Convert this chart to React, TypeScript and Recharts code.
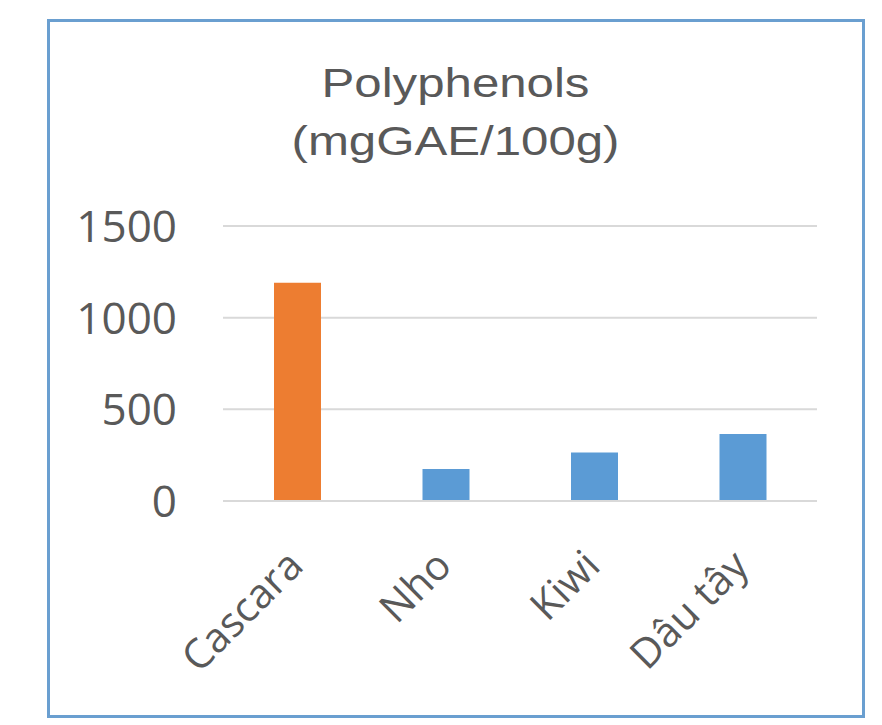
import { BarChart, Bar, XAxis, YAxis, CartesianGrid, Cell } from 'recharts';

const categories = ['Cascara', 'Nho', 'Kiwi', 'Dâu tây'];
const polyphenols = [1190, 175, 265, 365];
const yTicks = [0, 500, 1000, 1500];
const titleLines = ['Polyphenols', '(mgGAE/100g)'];

const barColors = ['#ED7D31', '#5B9BD5', '#5B9BD5', '#5B9BD5'];
const textColor = '#595959';

const data = categories.map((name, i) => ({ name, value: polyphenols[i] }));

function XTick({ x, y, payload }: any) {
  const tx = x + 8;
  const ty = y + 67;
  return (
    <text
      x={tx}
      y={ty}
      transform={`rotate(-45, ${tx}, ${ty})`}
      textAnchor="end"
      fill={textColor}
      fontSize={41}
      fontFamily="'Open Sans', sans-serif"
    >
      {payload.value}
    </text>
  );
}

function YTick({ x, y, payload }: any) {
  return (
    <text
      x={x - 46}
      y={y + 16}
      textAnchor="end"
      fill={textColor}
      fontSize={44}
      fontFamily="'Open Sans', sans-serif"
    >
      {payload.value}
    </text>
  );
}

export default function App() {
  return (
    <div style={{ position: 'absolute', left: 0, top: 0, width: 882, height: 725, background: '#fff' }}>
      <BarChart
        width={882}
        height={725}
        data={data}
        margin={{ top: 226, right: 65, bottom: 194, left: 73 }}
        barSize={47}
      >
        <CartesianGrid vertical={false} stroke="#d9d9d9" strokeWidth={2} />
        <XAxis
          dataKey="name"
          height={30}
          interval={0}
          tickLine={false}
          tickSize={0}
          tickMargin={0}
          axisLine={{ stroke: '#d9d9d9', strokeWidth: 2 }}
          tick={<XTick />}
        />
        <YAxis
          width={150}
          domain={[0, 1500]}
          ticks={yTicks}
          axisLine={false}
          tickLine={false}
          tickSize={0}
          tickMargin={0}
          tick={<YTick />}
        />
        <Bar dataKey="value" isAnimationActive={false}>
          {data.map((d, i) => (
            <Cell key={d.name} fill={barColors[i]} />
          ))}
        </Bar>
      </BarChart>
      <svg
        width={882}
        height={725}
        style={{ position: 'absolute', left: 0, top: 0, pointerEvents: 'none' }}
      >
        <rect x={48.5} y={20.5} width={815} height={696} fill="none" stroke="#6A9FD0" strokeWidth={3} />
        {titleLines.map((line, i) => (
          <text
            key={line}
            x={0}
            y={97 + i * 58}
            transform="translate(455.5 0) scale(1.2 1)"
            textAnchor="middle"
            fill={textColor}
            fontSize={41}
            fontFamily="'Liberation Sans', Arial, sans-serif"
          >
            {line}
          </text>
        ))}
      </svg>
    </div>
  );
}
